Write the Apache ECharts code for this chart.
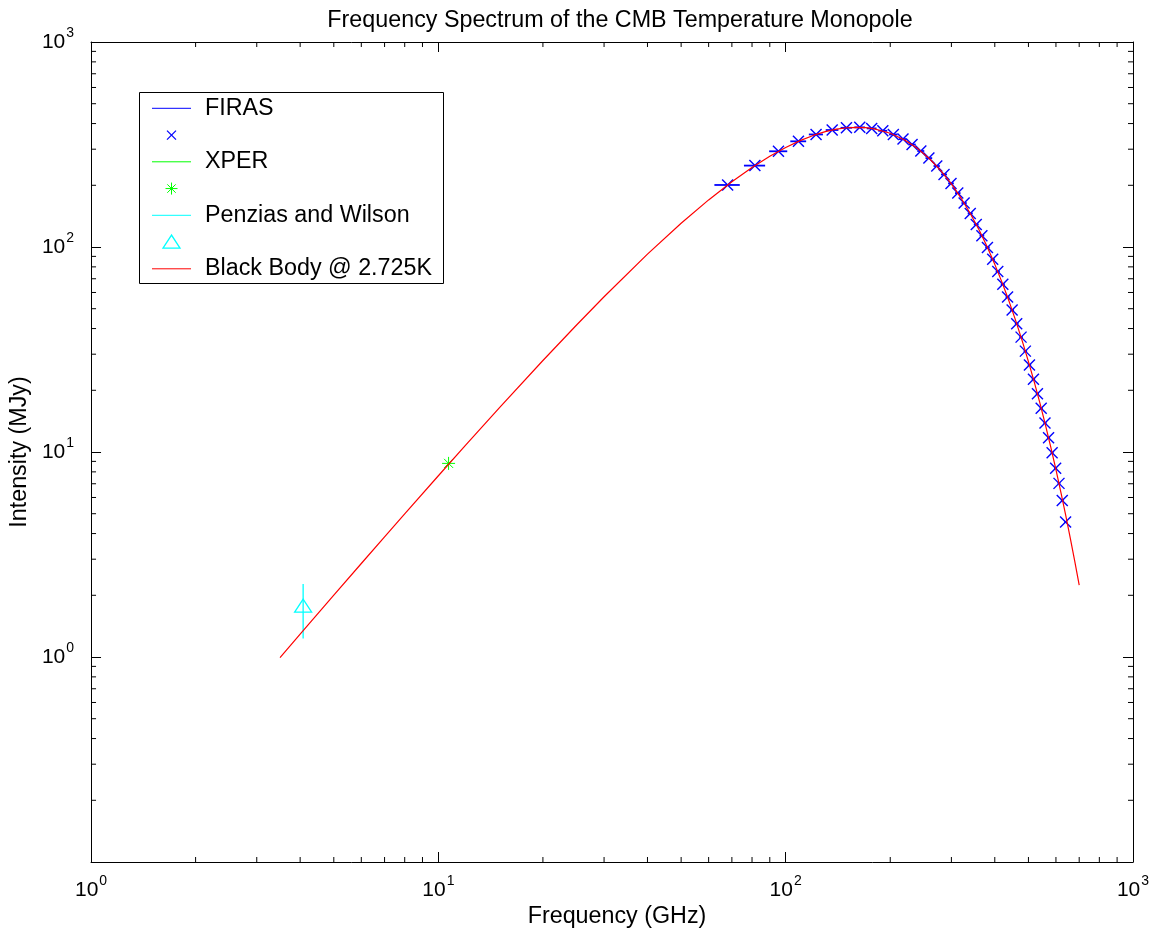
<!DOCTYPE html>
<html>
<head>
<meta charset="utf-8">
<title>CMB Monopole Spectrum</title>
<script src="https://cdn.jsdelivr.net/npm/echarts@6/dist/echarts.min.js"></script>
<style>
  html, body { margin: 0; padding: 0; background: #ffffff; }
  #chart { width: 1160px; height: 934px; }
</style>
</head>
<body>
<div id="chart"></div>
<script>
// ---- data ---------------------------------------------------------------
// FIRAS monopole spectrum: frequency (GHz) and intensity (MJy)
const firasFreq = [68.05, 81.54, 95.33, 108.82, 122.32, 136.11, 149.60, 163.39, 176.88, 190.37,
  204.16, 217.65, 231.14, 244.93, 258.42, 272.21, 285.70, 299.19, 312.98, 326.47,
  339.96, 353.75, 367.24, 381.04, 394.53, 408.02, 421.81, 435.30, 448.79, 462.58,
  476.07, 489.86, 503.35, 516.84, 530.63, 544.12, 557.91, 571.40, 584.89, 598.69,
  612.18, 625.67, 639.46];
const firasIntensity = [200.7, 249.5, 293.0, 327.7, 354.0, 372.1, 381.5, 383.5, 378.9, 368.8,
  354.0, 336.2, 316.1, 293.9, 271.4, 248.3, 225.9, 204.3, 183.2, 163.8,
  145.8, 128.8, 113.6, 99.45, 87.03, 75.89, 65.76, 56.98, 49.23, 42.28,
  36.34, 31.05, 26.56, 22.67, 19.25, 16.36, 13.84, 11.72, 9.91, 8.34,
  7.03, 5.80, 4.55];

// XPER point
const xperFreq = [10.7];
const xperIntensity = [8.8];

// Penzias and Wilson point with its uncertainty
const pwFreq = [4.08];
const pwIntensity = [1.75];
const pwError = [0.52];

// Black body curve at 2.725 K
const bbFreq = [3.5, 4, 5, 6, 7, 8, 10, 12, 15, 20, 25, 30, 40, 50, 60, 70, 80, 90,
  100, 110, 120, 130, 140, 150, 160, 170, 180,
  200, 220, 240, 260, 280, 300, 320, 340, 360, 380, 400, 420, 440, 460, 480,
  500, 520, 540, 560, 580, 600, 620, 640, 660, 680, 700];
const bbIntensity = [0.994, 1.293, 2.002, 2.858, 3.855, 4.989, 7.657, 10.83, 16.46, 27.94, 41.65, 57.18, 92.26, 130.5, 169.7, 208.1, 244.2, 277.1,
  305.9, 330.4, 350.1, 365.2, 375.6, 381.7, 383.6, 381.9, 376.9,
  358.9, 332.9, 302.0, 268.8, 235.3, 203.0, 173.0, 145.7, 121.6, 100.5, 82.29, 67.02, 54.17, 43.51, 34.76,
  27.62, 21.84, 17.20, 13.49, 10.54, 8.20, 6.36, 4.92, 3.79, 2.92, 2.24];

// axis ranges and labels
const xRange = [1, 1000];
const yRange = [0.1, 1000];
const legendLabels = ['FIRAS', '', 'XPER', '', 'Penzias and Wilson', '', 'Black Body @ 2.725K'];
const titleText = 'Frequency Spectrum of the CMB Temperature Monopole';
const xName = 'Frequency (GHz)';
const yName = 'Intensity (MJy)';

// ---- styling ------------------------------------------------------------
const FONT = '"Liberation Sans", Arial, Helvetica, sans-serif';
const TEXT_SIZE = 23.3;
const BLUE = '#0000ff', GREEN = '#00ff00', CYAN = '#00ffff', RED = '#ff0000';

// minor tick positions on the log axes (2..9 within each decade)
function minorTicks(lo, hi) {
  const out = [];
  for (let d = lo; d < hi; d *= 10) {
    for (let m = 2; m <= 9; m++) out.push(+(m * d).toPrecision(6));
  }
  return out;
}
const xMinor = minorTicks(xRange[0], xRange[1]);
const yMinor = minorTicks(yRange[0], yRange[1]);

// errorbar cap half-width follows the span of the FIRAS frequencies
const tee = (Math.max(...firasFreq) - Math.min(...firasFreq)) / 100;

const richLabel = {
  b: { fontSize: 21, fontFamily: FONT, color: '#000', lineHeight: 40 },
  s: { fontSize: 14, fontFamily: FONT, color: '#000', verticalAlign: 'top', lineHeight: 14, padding: [4, 0, 0, 1] }
};
function powLabel(v) {
  if (v > 0 && v < yRange[0] * 1.5) return '';
  const e = Math.round(Math.log10(v));
  return '{b|10}{s|' + e + '}';
}

function seg(x1, y1, x2, y2, color, w) {
  return { type: 'line', shape: { x1, y1, x2, y2 }, style: { stroke: color, lineWidth: w || 1 } };
}
function crossMark(cx, cy, r, color, w) {
  return [seg(cx - r, cy - r, cx + r, cy + r, color, w), seg(cx - r, cy + r, cx + r, cy - r, color, w)];
}
function starMark(cx, cy, r, color) {
  const d = r * 0.7;
  return [seg(cx - r, cy, cx + r, cy, color), seg(cx, cy - r, cx, cy + r, color),
          seg(cx - d, cy - d, cx + d, cy + d, color), seg(cx - d, cy + d, cx + d, cy - d, color)];
}
function triMark(cx, cy, color) {
  return { type: 'polygon', shape: { points: [[cx, cy - 8], [cx - 8.5, cy + 5], [cx + 8.5, cy + 5]] },
           style: { fill: 'none', stroke: color, lineWidth: 1.3 } };
}

const axisCommon = {
  type: 'log', logBase: 10,
  axisLine: { show: true, onZero: false, lineStyle: { color: '#000', width: 1 } },
  axisTick: { show: true, inside: true, length: 10, lineStyle: { color: '#000', width: 1 } },
  splitLine: { show: false },
  minorTick: { show: false }
};

// ---- legend block ---------------------------------------------------------
const legendBox = { x: 139.5, y: 92.5, w: 304, h: 191 };
const rowY0 = 108.3, rowStep = 26.75;
const legendChildren = [{
  type: 'rect', shape: { x: legendBox.x, y: legendBox.y, width: legendBox.w, height: legendBox.h },
  style: { fill: '#fff', stroke: '#000', lineWidth: 1 }
}];
const legendColors = [BLUE, BLUE, GREEN, GREEN, CYAN, CYAN, RED];
legendLabels.forEach((txt, i) => {
  const y = rowY0 + i * rowStep;
  const c = legendColors[i];
  if (i % 2 === 0) {
    legendChildren.push(seg(152, y, 191, y, c, 1));
  } else if (i === 1) {
    crossMark(171.5, y, 4.5, c, 1.2).forEach(s => legendChildren.push(s));
  } else if (i === 3) {
    starMark(171.5, y, 6, c).forEach(s => legendChildren.push(s));
  } else if (i === 5) {
    legendChildren.push(triMark(171.5, y + 1, c));
  }
  if (txt) {
    legendChildren.push({
      type: 'text', x: 205, y: y,
      style: { text: txt, fontSize: TEXT_SIZE, fontFamily: FONT, fill: '#000', verticalAlign: 'middle', align: 'left' }
    });
  }
});

// ---- chart ----------------------------------------------------------------
const chart = echarts.init(document.getElementById('chart'), null, { renderer: 'canvas' });
chart.setOption({
  animation: false,
  backgroundColor: '#ffffff',
  title: {
    text: titleText, left: 615, top: 4, textAlign: 'center',
    textStyle: { fontSize: TEXT_SIZE, fontWeight: 'normal', fontFamily: FONT, color: '#000' }
  },
  grid: { left: 91, right: 27, top: 42, bottom: 72, containLabel: false },
  xAxis: [
    Object.assign({}, axisCommon, {
      min: xRange[0], max: xRange[1], position: 'bottom',
      name: xName, nameLocation: 'middle', nameGap: 40,
      nameTextStyle: { fontSize: TEXT_SIZE, fontFamily: FONT, color: '#000', padding: [0, 0, 0, 10] },
      axisLabel: { show: true, margin: 8, formatter: powLabel, rich: richLabel }
    }),
    Object.assign({}, axisCommon, {
      min: xRange[0], max: xRange[1], position: 'top', axisLabel: { show: false }
    })
  ],
  yAxis: [
    Object.assign({}, axisCommon, {
      min: yRange[0], max: yRange[1], position: 'left',
      name: yName, nameLocation: 'middle', nameGap: 57,
      nameTextStyle: { fontSize: TEXT_SIZE, fontFamily: FONT, color: '#000' },
      axisLabel: { show: true, margin: 17, formatter: powLabel, rich: richLabel }
    }),
    Object.assign({}, axisCommon, {
      min: yRange[0], max: yRange[1], position: 'right', axisLabel: { show: false }
    })
  ],
  graphic: [{ type: 'group', children: legendChildren, z: 100 }],
  series: [
    {
      name: 'FIRAS', type: 'custom', xAxisIndex: 0, yAxisIndex: 0,
      encode: { x: 0, y: 1 },
      data: firasFreq.map((f, i) => [f, firasIntensity[i]]),
      renderItem(params, api) {
        const f = api.value(0), v = api.value(1);
        const c = api.coord([f, v]);
        const l = api.coord([f - tee, v]);
        const r = api.coord([f + tee, v]);
        return { type: 'group', children: [seg(l[0], l[1], r[0], r[1], BLUE, 1.8)].concat(crossMark(c[0], c[1], 5.5, BLUE, 1.4)) };
      }
    },
    {
      name: 'XPER', type: 'custom', xAxisIndex: 0, yAxisIndex: 0,
      encode: { x: 0, y: 1 },
      data: xperFreq.map((f, i) => [f, xperIntensity[i]]),
      renderItem(params, api) {
        const c = api.coord([api.value(0), api.value(1)]);
        return { type: 'group', children: starMark(c[0], c[1], 6.5, GREEN) };
      }
    },
    {
      name: 'Penzias and Wilson', type: 'custom', xAxisIndex: 0, yAxisIndex: 0,
      encode: { x: 0, y: 1 },
      data: pwFreq.map((f, i) => [f, pwIntensity[i], pwError[i]]),
      renderItem(params, api) {
        const f = api.value(0), v = api.value(1), e = api.value(2);
        const c = api.coord([f, v]);
        const top = api.coord([f, v + e]);
        const bot = api.coord([f, v - e]);
        return { type: 'group', children: [seg(top[0], top[1], bot[0], bot[1], CYAN, 1.3), triMark(c[0], c[1], CYAN)] };
      }
    },
    {
      name: 'Black Body @ 2.725K', type: 'line', xAxisIndex: 0, yAxisIndex: 0,
      data: bbFreq.map((f, i) => [f, bbIntensity[i]]),
      showSymbol: false, symbol: 'none', smooth: false,
      lineStyle: { color: RED, width: 1.2 }, z: 3
    },
    {
      type: 'custom', silent: true, xAxisIndex: 0, yAxisIndex: 0,
      encode: { x: 0, y: 1 },
      data: xMinor.map(v => [v, 1]),
      renderItem(params, api) {
        const v = api.value(0);
        const b = api.coord([v, yRange[0]]);
        const t = api.coord([v, yRange[1]]);
        return { type: 'group', children: [seg(b[0], b[1], b[0], b[1] - 5, '#000'), seg(t[0], t[1], t[0], t[1] + 5, '#000')] };
      }
    },
    {
      type: 'custom', silent: true, xAxisIndex: 0, yAxisIndex: 0,
      encode: { x: 0, y: 1 },
      data: yMinor.map(v => [10, v]),
      renderItem(params, api) {
        const v = api.value(1);
        const l = api.coord([xRange[0], v]);
        const r = api.coord([xRange[1], v]);
        return { type: 'group', children: [seg(l[0], l[1], l[0] + 5, l[1], '#000'), seg(r[0], r[1], r[0] - 5, r[1], '#000')] };
      }
    }
  ]
});
</script>
</body>
</html>
